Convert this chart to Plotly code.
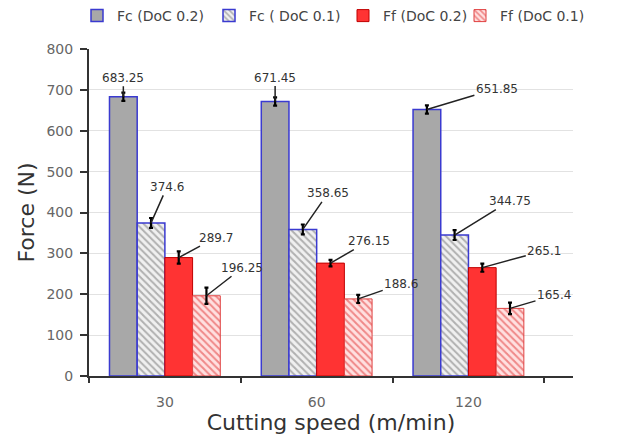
import plotly.graph_objects as go

speeds = ["30", "60", "120"]
series_names = ["Fc (DoC 0.2)", "Fc ( DoC 0.1)", "Ff (DoC 0.2)", "Ff (DoC 0.1)"]
fc_doc02 = [683.25, 671.45, 651.85]
fc_doc01 = [374.6, 358.65, 344.75]
ff_doc02 = [289.7, 276.15, 265.1]
ff_doc01 = [196.25, 188.6, 165.4]
err_fc_doc02 = [10, 10, 10]
err_fc_doc01 = [12, 12, 12]
err_ff_doc02 = [15, 8, 10]
err_ff_doc01 = [20, 10, 14]

values = [fc_doc02, fc_doc01, ff_doc02, ff_doc01]
errors = [err_fc_doc02, err_fc_doc01, err_ff_doc02, err_ff_doc01]

FONT = "DejaVu Sans"

styles = [
    dict(color="#a8a8a8", line=dict(color="#3a3ad0", width=1.5)),
    dict(color="#f0f0f0", line=dict(color="#3a3ad0", width=1.5),
         pattern=dict(shape="\\", fgcolor="#707070", bgcolor="#f0f0f0", size=5, solidity=0.4)),
    dict(color="#ff3333", line=dict(color="#c00000", width=1)),
    dict(color="#ffd0d0", line=dict(color="#e04040", width=1),
         pattern=dict(shape="\\", fgcolor="#e03030", bgcolor="#ffe0e0", size=5, solidity=0.4)),
]
legend_ids = ["legend", "legend2", "legend3", "legend4"]
legend_x_px = [77, 209, 343, 460]

fig = go.Figure()
for name, vals, errs, st, lg in zip(series_names, values, errors, styles, legend_ids):
    fig.add_trace(go.Bar(
        x=speeds, y=vals, name=name, marker=st, legend=lg,
        error_y=dict(type="data", array=errs, color="black", thickness=2.2, width=2),
    ))

bargap = 0.27
bw = (1 - bargap) / 4
offsets = [(j - 1.5) * bw for j in range(4)]
# label offsets in pixels (ax, ay) for each series / group
label_offsets = [
    [(0, -19), (0, -24), (70, -21)],
    [(16, -36), (25, -36), (55, -34)],
    [(37, -20), (38, -22), (62, -17)],
    [(36, -28), (43, -15), (44, -13)],
]
annotations = []
for j, vals in enumerate(values):
    for i, v in enumerate(vals):
        ax, ay = label_offsets[j][i]
        annotations.append(dict(
            x=i + offsets[j], y=v, xref="x", yref="y", text=f"{v:g}",
            showarrow=True, arrowhead=0, arrowwidth=1.5, arrowcolor="#222",
            ax=ax, ay=ay, standoff=0,
            font=dict(family=FONT, size=12, color="#333"),
        ))

W, H = 629, 437
legend_layout = {}
for lg, xp in zip(legend_ids, legend_x_px):
    legend_layout[lg] = dict(
        orientation="h", x=xp / W, y=1.0, xref="container", yref="container",
        xanchor="left", yanchor="top", itemwidth=30,
        font=dict(family=FONT, size=14, color="#444"), bgcolor="rgba(0,0,0,0)",
    )

fig.update_layout(
    width=W, height=H,
    margin=dict(l=89, r=56, t=49, b=61, autoexpand=False),
    paper_bgcolor="white", plot_bgcolor="white",
    barmode="group", bargap=bargap, bargroupgap=0,
    showlegend=True,
    annotations=annotations,
    font=dict(family=FONT),
    **legend_layout,
)
fig.update_yaxes(
    range=[0, 800], dtick=100, showgrid=True, gridcolor="#e2e2e2", gridwidth=1,
    showline=True, linecolor="#333", linewidth=2, ticks="outside", ticklen=7,
    tickcolor="#333", tickwidth=2, ticklabelstandoff=4,
    tickfont=dict(family=FONT, size=14, color="#666"),
    title=dict(text="Force (N)", font=dict(family=FONT, size=22, color="#333"), standoff=6),
    zeroline=False,
)
fig.update_xaxes(
    type="category", showline=True, linecolor="#333", linewidth=2,
    ticks="outside", ticklen=5, tickcolor="#333", tickwidth=2, tickson="boundaries",
    ticklabelstandoff=12,
    tickfont=dict(family=FONT, size=14, color="#666"),
    title=dict(text="Cutting speed (m/min)", font=dict(family=FONT, size=22, color="#333"), standoff=2),
)

fig.write_html("out.html", config={"displayModeBar": False},
               post_script="document.body.style.margin='0';")
